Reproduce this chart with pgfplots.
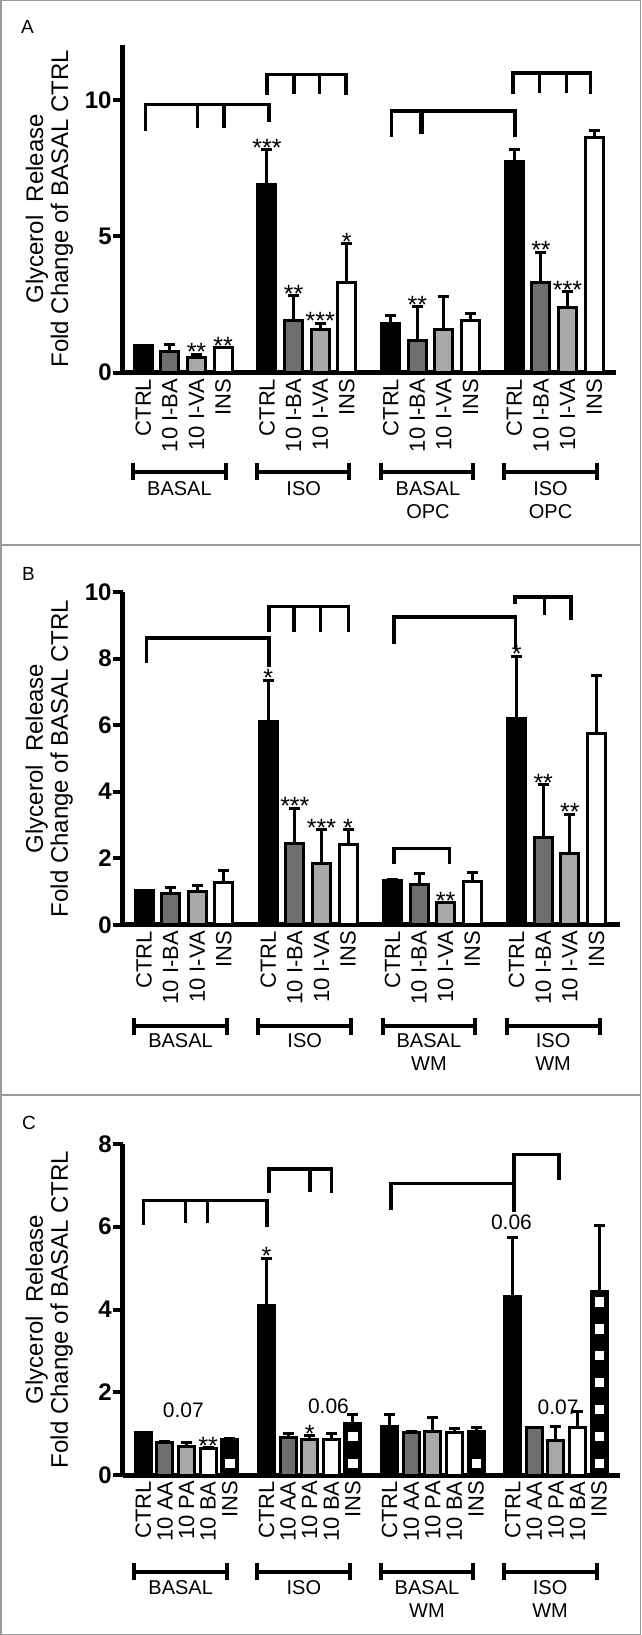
\documentclass[border=0pt]{standalone}
\usepackage{fontspec}
\setmainfont{Liberation Sans}
\usepackage{pgfplots}
\usepackage{pgfplotstable}
\pgfplotsset{compat=1.18}
\usetikzlibrary{arrows.meta}
\definecolor{dg}{HTML}{6E6E6E}
\definecolor{lg}{HTML}{A8A8A8}
\definecolor{framec}{HTML}{9A9A9A}
\newcommand{\fs}[1]{\fontsize{#1}{#1}\selectfont}
\newcommand{\grp}[5]{%
  \draw[line width=4pt] (axis cs:#1,#3) -- (axis cs:#2,#3);
  \draw[line width=4pt] (axis cs:#1,#3-#4) -- (axis cs:#1,#3+#4);
  \draw[line width=4pt] (axis cs:#2,#3-#4) -- (axis cs:#2,#3+#4);}
\newcommand{\sig}[5]{%
  \draw[line width=3.5pt, line join=miter] (axis cs:#1,#2) -- (axis cs:#1,#5) -- (axis cs:#3,#5) -- (axis cs:#3,#4);}
\newcommand{\stk}[3]{\draw[line width=3.5pt] (axis cs:#1,#2) -- (axis cs:#1,#3);}
\tikzset{
  star/.style={anchor=base, font=\fs{25}, inner sep=0pt, yshift=-8pt},
  grplab/.style={anchor=north, align=center, font=\fontsize{20}{23}\selectfont, inner sep=0pt},
  pval/.style={anchor=center, font=\fs{21}, inner sep=0pt},
}
% ---- data: x = position, y = mean, e = upper error ----
% Panel A
\pgfplotstableread{
x y e
0 1.0 0.02
4.65 6.89 1.33
9.3 1.80 0.36
13.95 7.74 0.48
}\tAa
\pgfplotstableread{
x y e
1 0.79 0.29
5.65 1.91 0.97
10.3 1.19 1.28
14.95 3.30 1.17
}\tAb
\pgfplotstableread{
x y e
2 0.57 0.15
6.65 1.59 0.28
11.3 1.59 1.27
15.95 2.40 0.61
}\tAc
\pgfplotstableread{
x y e
3 0.91 0.04
7.65 3.30 1.47
12.3 1.91 0.31
16.95 8.63 0.29
}\tAd
% Panel B
\pgfplotstableread{
x y e
0 1.02 0.02
4.67 6.12 1.27
9.34 1.34 0.07
14.01 6.19 1.93
}\tBa
\pgfplotstableread{
x y e
1 0.95 0.21
5.67 2.43 1.12
10.34 1.20 0.38
15.01 2.61 1.65
}\tBb
\pgfplotstableread{
x y e
2 1.0 0.23
6.67 1.84 1.06
11.34 0.68 0.03
16.01 2.14 1.23
}\tBc
\pgfplotstableread{
x y e
3 1.28 0.40
7.67 2.41 0.49
12.34 1.30 0.33
17.01 5.75 1.78
}\tBd
% Panel C
\pgfplotstableread{
x y e
0 1.03 0.02
5.7 4.10 1.17
11.4 1.18 0.31
17.1 4.32 1.46
}\tCa
\pgfplotstableread{
x y e
1 0.78 0.07
6.7 0.91 0.12
12.4 1.02 0.07
18.1 1.16 0.02
}\tCb
\pgfplotstableread{
x y e
2 0.70 0.12
7.7 0.85 0.14
13.4 1.06 0.38
19.1 0.84 0.36
}\tCc
\pgfplotstableread{
x y e
3 0.65 0.05
8.7 0.86 0.19
14.4 1.02 0.14
20.1 1.16 0.42
}\tCd
\pgfplotstableread{
x y e
4 0.86 0.07
9.7 1.24 0.25
15.4 1.05 0.13
21.1 4.43 1.64
}\tCe
\pgfplotsset{
  panel/.style={
    scale only axis, clip=false,
    axis lines=left,
    axis line style={line width=5pt,-},
    ymin=0,
    ytick align=outside, xtick align=inside,
    major tick length=10pt,
    ytick style={line width=4pt, black},
    xtick style={draw=none},
    /pgf/number format/assume math mode=true,
    yticklabel style={font=\bfseries\fs{24}, inner sep=0pt, xshift=-1pt},
    xticklabel style={font=\fs{22}, rotate=90, anchor=east, inner sep=0pt},
    xticklabel shift=6pt,
    ylabel={Glycerol\ \ Release\\Fold Change of BASAL CTRL},
    ylabel style={align=center, font=\fontsize{24}{25}\selectfont, at={(axis description cs:-0.149,0.5)}, anchor=center},
  },
  bars/.style={ybar, bar width=18pt, bar shift=0pt, draw=black, line width=3pt},
  eb/.style={quiver={u=0, v=\thisrow{e}, scale arrows=1}, black, line width=3pt,
     -{Bar[width=11pt]}, forget plot},
}
\begin{document}
\begin{tikzpicture}
% frame
\draw[framec, line width=1.5pt] (0.75pt,-0.75pt) rectangle (640.25pt,-1634.25pt);
\draw[framec, line width=1.5pt] (0pt,-545pt) -- (641pt,-545pt);
\draw[framec, line width=1.5pt] (0pt,-1095pt) -- (641pt,-1095pt);
\node[anchor=north west, inner sep=0pt, font=\fs{19}] at (21pt,-20pt) {A};
\node[anchor=north west, inner sep=0pt, font=\fs{19}] at (22pt,-567pt) {B};
\node[anchor=north west, inner sep=0pt, font=\fs{19}] at (22pt,-1116pt) {C};

% ---------------- Panel A ----------------
\begin{axis}[panel, at={(122.8pt,-372.6pt)}, anchor=south west,
  width=493.2pt, height=327.4pt,
  xmin=-0.77, xmax=17.77, ymax=12,
  ytick={0,5,10},
  xtick={0,1,2,3,4.65,5.65,6.65,7.65,9.3,10.3,11.3,12.3,13.95,14.95,15.95,16.95},
  xticklabels={CTRL,10 I-BA,10 I-VA,INS,CTRL,10 I-BA,10 I-VA,INS,CTRL,10 I-BA,10 I-VA,INS,CTRL,10 I-BA,10 I-VA,INS},
]
\addplot[eb] table[x=x,y=y]{\tAa};
\addplot[eb] table[x=x,y=y]{\tAb};
\addplot[eb] table[x=x,y=y]{\tAc};
\addplot[eb] table[x=x,y=y]{\tAd};
\addplot[bars, fill=black] table[x=x,y=y]{\tAa};
\addplot[bars, fill=dg] table[x=x,y=y]{\tAb};
\addplot[bars, fill=lg] table[x=x,y=y]{\tAc};
\addplot[bars, fill=white] table[x=x,y=y]{\tAd};
\node[star] at (axis cs:4.65,8.22) {***};
\node[star] at (axis cs:5.65,2.88) {**};
\node[star] at (axis cs:6.65,1.87) {***};
\node[star] at (axis cs:7.65,4.77) {*};
\node[star] at (axis cs:2,0.72) {**};
\node[star] at (axis cs:3,0.95) {**};
\node[star] at (axis cs:10.3,2.47) {**};
\node[star] at (axis cs:14.95,4.47) {**};
\node[star] at (axis cs:15.95,3.01) {***};
\sig{0.08}{8.86}{4.72}{9.17}{9.83}
\stk{2.04}{9.83}{8.98}
\stk{3.04}{9.83}{8.98}
\sig{4.65}{10.17}{7.62}{10.17}{10.93}
\stk{5.66}{10.93}{10.2}
\stk{6.63}{10.93}{10.2}
\sig{9.34}{8.64}{13.97}{8.64}{9.58}
\draw[line width=5pt] (axis cs:10.45,9.58) -- (axis cs:10.45,8.75);
\sig{13.9}{10.2}{16.82}{10.2}{10.98}
\stk{14.9}{10.98}{10.25}
\stk{15.9}{10.98}{10.25}
\grp{-0.38}{3.1}{-3.63}{0.31}{}
\grp{4.27}{7.75}{-3.63}{0.31}{}
\grp{8.92}{12.4}{-3.63}{0.31}{}
\grp{13.57}{17.05}{-3.63}{0.31}{}
\node[grplab] at (axis cs:1.36,-4.0) {BASAL};
\node[grplab] at (axis cs:6.03,-4.0) {ISO};
\node[grplab] at (axis cs:10.7,-4.0) {BASAL\\OPC};
\node[grplab] at (axis cs:15.31,-4.0) {ISO\\OPC};
\end{axis}

% ---------------- Panel B ----------------
\begin{axis}[panel, at={(122.8pt,-924.9pt)}, anchor=south west,
  width=497.3pt, height=333pt,
  xmin=-0.8, xmax=17.9, ymax=10,
  ytick={0,2,4,6,8,10},
  xtick={0,1,2,3,4.67,5.67,6.67,7.67,9.34,10.34,11.34,12.34,14.01,15.01,16.01,17.01},
  xticklabels={CTRL,10 I-BA,10 I-VA,INS,CTRL,10 I-BA,10 I-VA,INS,CTRL,10 I-BA,10 I-VA,INS,CTRL,10 I-BA,10 I-VA,INS},
  ylabel style={at={(axis description cs:-0.148,0.5)}},
]
\addplot[eb] table[x=x,y=y]{\tBa};
\addplot[eb] table[x=x,y=y]{\tBb};
\addplot[eb] table[x=x,y=y]{\tBc};
\addplot[eb] table[x=x,y=y]{\tBd};
\addplot[bars, fill=black] table[x=x,y=y]{\tBa};
\addplot[bars, fill=dg] table[x=x,y=y]{\tBb};
\addplot[bars, fill=lg] table[x=x,y=y]{\tBc};
\addplot[bars, fill=white] table[x=x,y=y]{\tBd};
\node[star] at (axis cs:4.67,7.39) {*};
\node[star] at (axis cs:5.67,3.55) {***};
\node[star] at (axis cs:6.67,2.90) {***};
\node[star] at (axis cs:7.67,2.90) {*};
\node[star] at (axis cs:11.34,0.71) {**};
\node[star] at (axis cs:14.01,8.12) {*};
\node[star] at (axis cs:15.01,4.26) {**};
\node[star] at (axis cs:16.01,3.37) {**};
\sig{0.09}{7.86}{4.69}{7.76}{8.61}
\sig{4.69}{8.80}{7.68}{8.80}{9.56}
\stk{5.63}{9.56}{8.80}
\stk{6.63}{9.56}{8.80}
\sig{9.40}{8.43}{13.97}{8.28}{9.24}
\sig{13.94}{9.63}{16.05}{9.16}{9.84}
\stk{15.05}{9.84}{9.32}
\sig{9.40}{1.83}{11.48}{1.83}{2.30}
\grp{-0.37}{3.12}{-3.05}{0.26}{}
\grp{4.30}{7.79}{-3.05}{0.26}{}
\grp{8.97}{12.46}{-3.05}{0.26}{}
\grp{13.64}{17.13}{-3.05}{0.26}{}
\node[grplab] at (axis cs:1.37,-3.25) {BASAL};
\node[grplab] at (axis cs:6.04,-3.25) {ISO};
\node[grplab] at (axis cs:10.71,-3.25) {BASAL\\WM};
\node[grplab] at (axis cs:15.38,-3.25) {ISO\\WM};
\end{axis}

% ---------------- Panel C ----------------
\begin{axis}[panel, at={(122.8pt,-1475.1pt)}, anchor=south west,
  width=497.3pt, height=331.2pt,
  xmin=-0.95, xmax=22.07, ymax=8,
  ytick={0,2,4,6,8},
  xtick={0,1,2,3,4,5.7,6.7,7.7,8.7,9.7,11.4,12.4,13.4,14.4,15.4,17.1,18.1,19.1,20.1,21.1},
  xticklabels={CTRL,10 AA,10 PA,10 BA,INS,CTRL,10 AA,10 PA,10 BA,INS,CTRL,10 AA,10 PA,10 BA,INS,CTRL,10 AA,10 PA,10 BA,INS},
  ylabel style={at={(axis description cs:-0.148,0.5)}},
]
\addplot[eb] table[x=x,y=y]{\tCa};
\addplot[eb] table[x=x,y=y]{\tCb};
\addplot[eb] table[x=x,y=y]{\tCc};
\addplot[eb] table[x=x,y=y]{\tCd};
\addplot[eb] table[x=x,y=y]{\tCe};
\addplot[bars, bar width=16pt, fill=black] table[x=x,y=y]{\tCa};
\addplot[bars, bar width=16pt, fill=dg] table[x=x,y=y]{\tCb};
\addplot[bars, bar width=16pt, fill=lg] table[x=x,y=y]{\tCc};
\addplot[bars, bar width=16pt, fill=white] table[x=x,y=y]{\tCd};
\addplot[bars, bar width=16pt, fill=black] table[x=x,y=y]{\tCe};
\addplot[only marks, mark=square*, mark size=5.2pt, mark options={fill=white, draw=none}] coordinates {
(4,0.29) (9.7,0.29) (9.7,0.94) (15.4,0.29)
(21.1,0.29) (21.1,0.94) (21.1,1.59) (21.1,2.24) (21.1,2.89) (21.1,3.54) (21.1,4.19)
};
\node[star] at (axis cs:5.7,5.27) {*};
\node[star] at (axis cs:3,0.70) {**};
\node[star] at (axis cs:7.7,0.99) {*};
\node[pval] at (axis cs:1.85,1.57) {0.07};
\node[pval] at (axis cs:8.57,1.66) {0.06};
\node[pval] at (axis cs:17.04,6.10) {0.06};
\node[pval] at (axis cs:19.2,1.63) {0.07};
\sig{0.0}{6.03}{5.72}{5.99}{6.63}
\stk{1.95}{6.63}{6.10}
\stk{2.97}{6.63}{6.10}
\sig{5.82}{6.81}{8.72}{6.81}{7.40}
\stk{7.71}{7.40}{6.85}
\sig{11.46}{6.41}{17.15}{6.36}{7.04}
\sig{17.15}{7.08}{19.23}{7.12}{7.75}
\grp{-0.42}{3.88}{-2.33}{0.2}{}
\grp{5.28}{9.58}{-2.33}{0.2}{}
\grp{10.98}{15.28}{-2.33}{0.2}{}
\grp{16.68}{20.98}{-2.33}{0.2}{}
\node[grplab] at (axis cs:1.73,-2.53) {BASAL};
\node[grplab] at (axis cs:7.43,-2.53) {ISO};
\node[grplab] at (axis cs:13.13,-2.53) {BASAL\\WM};
\node[grplab] at (axis cs:18.83,-2.53) {ISO\\WM};
\end{axis}
\pgfresetboundingbox
\useasboundingbox (0pt,0pt) rectangle (641pt,-1635pt);
\end{tikzpicture}
\end{document}
